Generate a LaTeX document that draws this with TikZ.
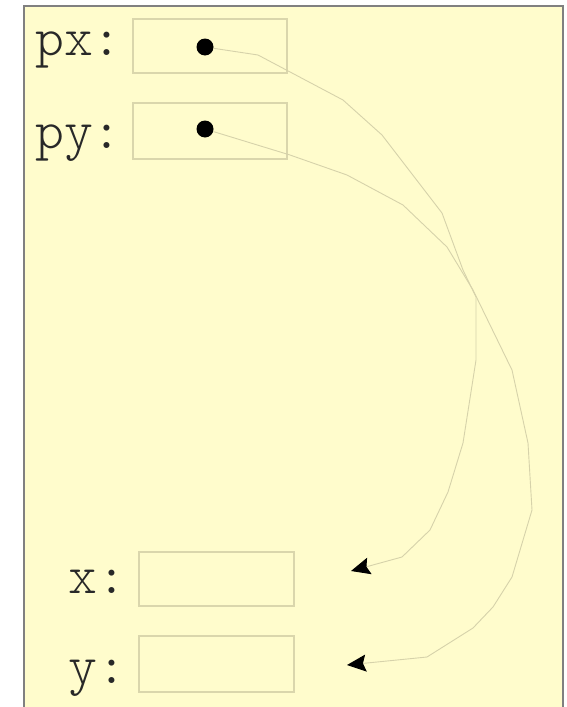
\documentclass[tikz,border=0pt]{standalone}
\usepackage{fontspec}
\newfontfamily\lightmono{Latin Modern Mono Light}
\usetikzlibrary{arrows.meta}
\definecolor{bgyellow}{RGB}{255,252,204}
\definecolor{framegray}{RGB}{128,128,128}
\definecolor{boxline}{RGB}{218,214,172}
\definecolor{linkline}{RGB}{214,210,170}
\definecolor{labelgray}{RGB}{40,40,40}
\begin{document}
\begin{tikzpicture}[x=1pt,y=-1pt,
  varlabel/.style={anchor=base,inner sep=0pt,text=labelgray,font=\lightmono\fontsize{55}{60}\selectfont},
  cellbox/.style={draw=boxline,line width=1.4pt},
  ptrdot/.style={circle,fill=black,inner sep=0pt,minimum size=17pt},
  link/.style={draw=linkline,line width=0.9pt,-{Stealth[length=19pt,width=17pt,inset=3pt,black]}}]
\useasboundingbox (0,0) rectangle (566,707);
\fill[white] (0,0) rectangle (566,707);
\fill[bgyellow] (24,6) rectangle (563,720);
\draw[framegray,line width=2pt] (24,720) -- (24,6) -- (563,6) -- (563,720);
% cells
\draw[cellbox] (133,19) rectangle (287,73);
\draw[cellbox] (133,103) rectangle (287,159);
\draw[cellbox] (139,552) rectangle (294,606);
\draw[cellbox] (139,636) rectangle (294,692);
% labels
\node[varlabel] (lpx) at (78.5,55) {px:};
\node[varlabel] (lpy) at (78.5,148) {py:};
\node[varlabel] (lx) at (97,593) {x:};
\node[varlabel] (ly) at (97,683) {y:};
% pointer dots
\node[ptrdot] (dpx) at (205,47) {};
\node[ptrdot] (dpy) at (205,129) {};
% arrow ends
\coordinate (ex) at (351,571);
\coordinate (ey) at (347,665);
% links
\draw[link] (dpx) -- (258,55) -- (343,100) -- (382,135) -- (442,213) -- (463,270) -- (476,297) -- (476,360) -- (463,443) -- (448,492) -- (430,530) -- (402,557) -- (ex);
\draw[link] (dpy) -- (290,155) -- (347,175) -- (403,205) -- (447,247) -- (473,290) -- (512,370) -- (528,443) -- (532,510) -- (512,577) -- (493,607) -- (473,628) -- (427,657) -- (ey);
\end{tikzpicture}
\end{document}
